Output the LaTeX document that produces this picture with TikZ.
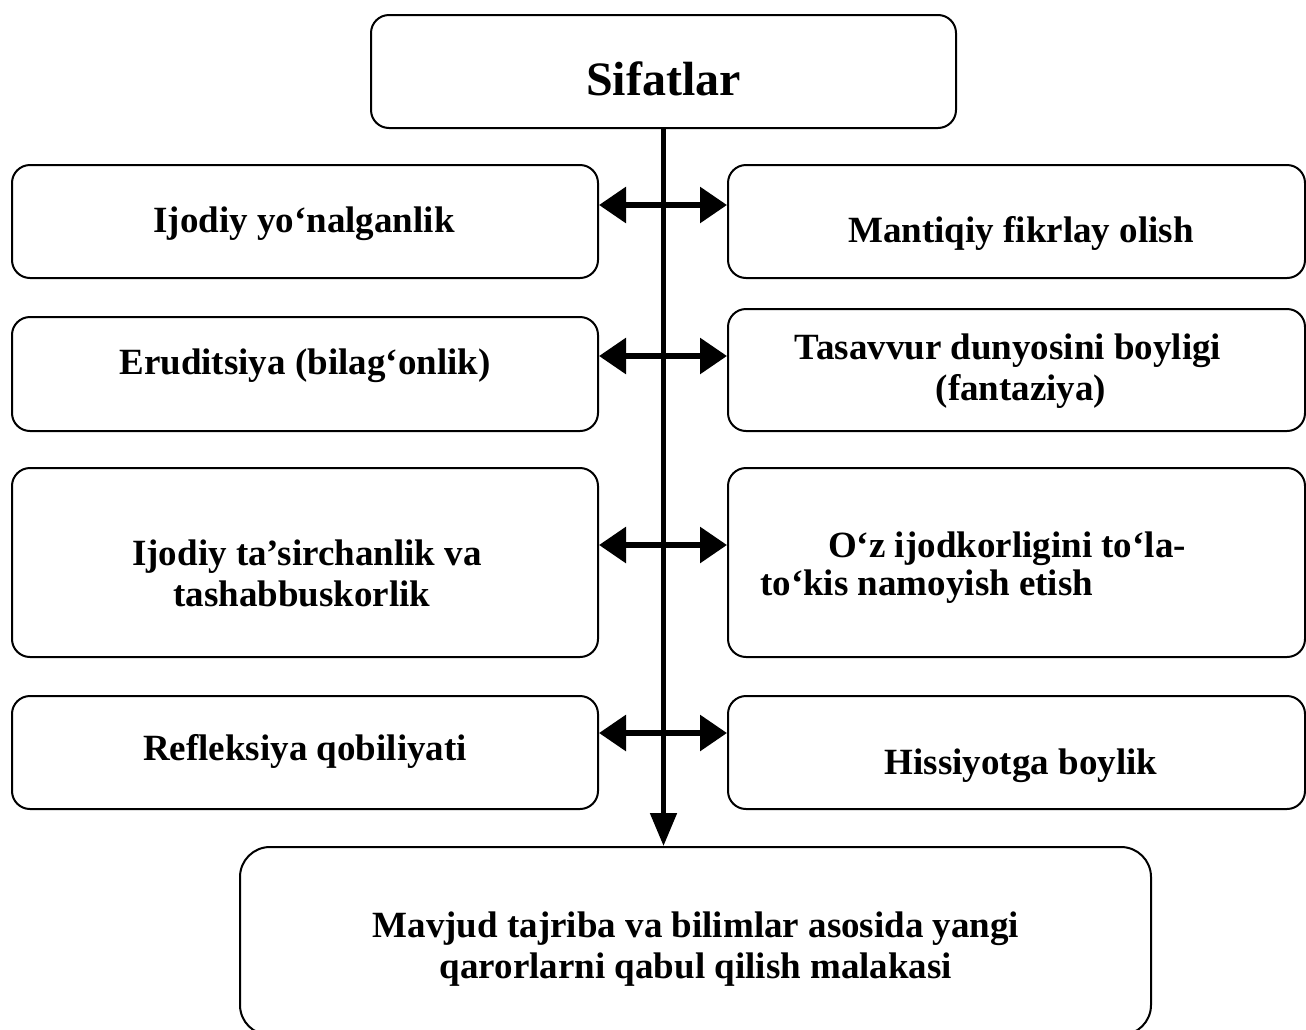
\documentclass[tikz,border=0pt]{standalone}
\usepackage{fontspec}
\setmainfont{Liberation Serif}
\usetikzlibrary{arrows.meta}
\tikzset{
  box/.style={draw, line width=2pt, rounded corners=18pt, inner sep=0pt},
  bigbox/.style={draw, line width=2pt, rounded corners=30pt, inner sep=0pt},
  txt/.style={font=\fontsize{37}{42}\selectfont\bfseries, anchor=base, inner sep=0pt},
  ttl/.style={font=\fontsize{48}{54}\selectfont\bfseries, anchor=base, inner sep=0pt},
  spine/.style={line width=5pt, -{Triangle[length=33pt,width=26pt]}},
  dbl/.style={line width=6pt, {Triangle[length=27pt,width=35pt]}-{Triangle[length=27pt,width=35pt]}}
}
\begin{document}
\begin{tikzpicture}[x=1pt,y=-1pt]
\useasboundingbox (0,0) rectangle (1306,1029);
% boxes
\node[box, minimum width=585pt, minimum height=113pt] (top) at (663.5,71.5) {};
\node[box, minimum width=586pt, minimum height=113pt] (L1) at (305,221.5) {};
\node[box, minimum width=586pt, minimum height=114pt] (L2) at (305,374) {};
\node[box, minimum width=586pt, minimum height=189pt] (L3) at (305,562.5) {};
\node[box, minimum width=586pt, minimum height=113pt] (L4) at (305,752.5) {};
\node[box, minimum width=577pt, minimum height=113pt] (R1) at (1016.5,221.5) {};
\node[box, minimum width=577pt, minimum height=122pt] (R2) at (1016.5,370) {};
\node[box, minimum width=577pt, minimum height=189pt] (R3) at (1016.5,562.5) {};
\node[box, minimum width=577pt, minimum height=113pt] (R4) at (1016.5,752.5) {};
\node[bigbox, minimum width=911pt, minimum height=188pt] (bot) at (695.5,941) {};
% texts
\node[ttl] (tTop) at (663.5,95) {Sifatlar};
\node[txt] (tL1) at (304,232) {Ijodiy yo‘nalganlik};
\node[txt] (tR1) at (1021,242) {Mantiqiy fikrlay olish};
\node[txt] (tL2) at (305,374) {Eruditsiya (bilag‘onlik)};
\node[txt] (tR2a) at (1008,359) {Tasavvur dunyosini boyligi};
\node[txt] (tR2b) at (1021,400) {(fantaziya)};
\node[txt] (tL3a) at (307,565) {Ijodiy ta’sirchanlik va};
\node[txt] (tL3b) at (302,606) {tashabbuskorlik};
\node[txt, anchor=base west] (tR3a) at (828,557) {O‘z ijodkorligini to‘la-};
\node[txt, anchor=base west] (tR3b) at (760,595) {to‘kis namoyish etish};
\node[txt] (tL4) at (305,760) {Refleksiya qobiliyati};
\node[txt] (tR4) at (1021,774) {Hissiyotga boylik};
\node[txt] (tBa) at (696,937) {Mavjud tajriba va bilimlar asosida yangi};
\node[txt] (tBb) at (696,978) {qarorlarni qabul qilish malakasi};
% spine
\coordinate (a1) at (663,205);
\coordinate (a2) at (663,356);
\coordinate (a3) at (663,545);
\coordinate (a4) at (663,733);
\draw[spine] (top.south) -- (top.south |- bot.north);
\draw[dbl] (L1.east |- a1) -- (R1.west |- a1);
\draw[dbl] (L2.east |- a2) -- (R2.west |- a2);
\draw[dbl] (L3.east |- a3) -- (R3.west |- a3);
\draw[dbl] (L4.east |- a4) -- (R4.west |- a4);
\end{tikzpicture}
\end{document}
